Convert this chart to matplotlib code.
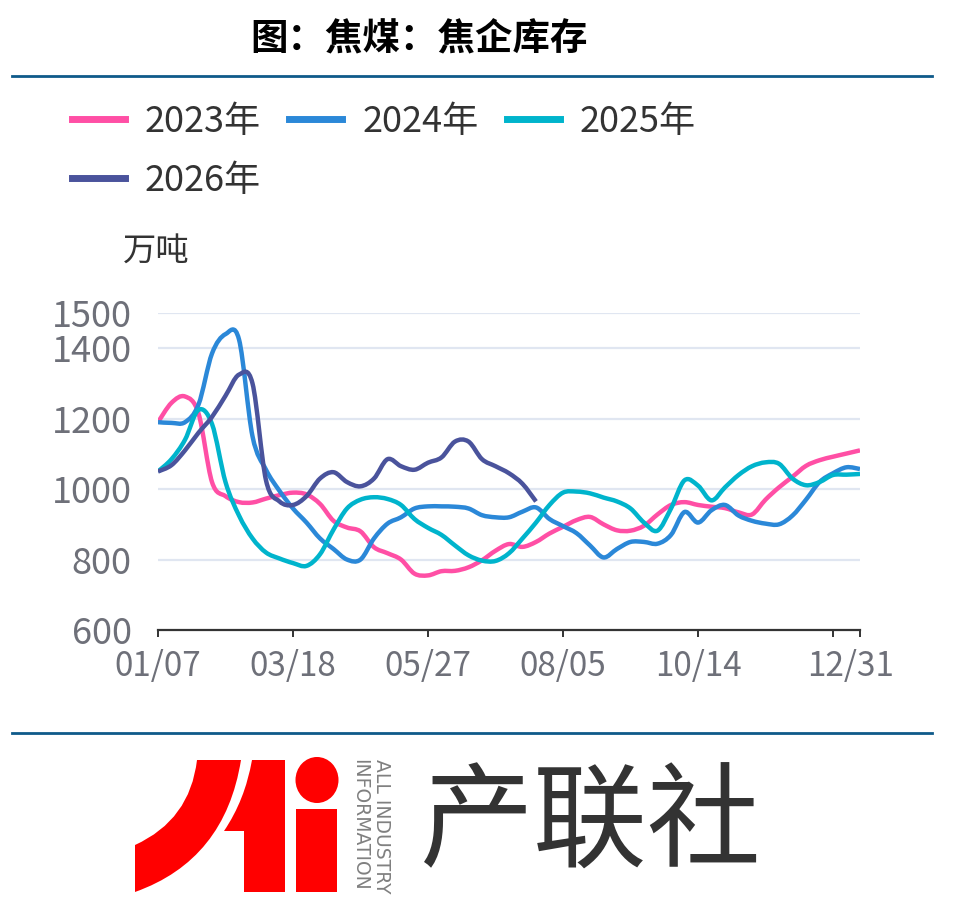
import numpy as np
import matplotlib.pyplot as plt
from matplotlib.patches import Ellipse, Rectangle, PathPatch
from matplotlib.path import Path
from matplotlib.lines import Line2D
from matplotlib import transforms

plt.rcParams['font.family'] = ['Noto Sans CJK SC', 'DejaVu Sans']

# 周度数据：横轴为周序号，01/07 起，每 10 周一个刻度
x_ticks = [0, 10, 20, 30, 40, 50, 52]
x_labels = ['01/07', '03/18', '05/27', '08/05', '10/14', '', '12/31']
y_ticks = [600, 800, 1000, 1200, 1400, 1500]

y2023 = [1190, 1245, 1263, 1215, 1020, 980, 963, 962, 973, 983,
         990, 985, 958, 910, 891, 880, 835, 818, 800, 760,
         755, 767, 768, 778, 798, 825, 844, 836, 850, 874,
         893, 912, 921, 900, 883, 882, 896, 928, 955, 963,
         955, 950, 946, 934, 928, 970, 1005, 1035, 1066, 1082,
         1092, 1101, 1110]
y2024 = [1190, 1188, 1190, 1240, 1385, 1440, 1425, 1150, 1055, 995,
         945, 905, 860, 830, 800, 800, 860, 902, 920, 945,
         951, 951, 950, 945, 926, 920, 920, 936, 948, 915,
         895, 875, 840, 806, 830, 850, 850, 845, 870, 935,
         905, 940, 955, 925, 910, 902, 900, 925, 970, 1020,
         1045, 1062, 1057]
y2025 = [1050, 1085, 1140, 1225, 1185, 1020, 925, 860, 820, 803,
         790, 782, 815, 885, 945, 970, 977, 972, 955, 915,
         890, 870, 840, 812, 797, 796, 818, 860, 905, 955,
         990, 993, 988, 976, 965, 945, 905, 882, 945, 1025,
         1010, 968, 1005, 1040, 1065, 1076, 1072, 1030, 1011, 1020,
         1040, 1041, 1043]
y2026 = [1050, 1068, 1110, 1160, 1205, 1265, 1325, 1300, 1025, 965,
         955, 980, 1030, 1048, 1020, 1008, 1030, 1085, 1065, 1055,
         1075, 1090, 1135, 1135, 1085, 1065, 1045, 1015, 965]

series = [('2023年', y2023, '#FF4FA5'),
          ('2024年', y2024, '#2B88D8'),
          ('2025年', y2025, '#00B4CC'),
          ('2026年', y2026, '#4A539C')]


def smooth_path(xs, ys):
    # 平滑折线（类似 echarts smooth），三次贝塞尔经过每个数据点
    pts = np.column_stack([xs, ys]).astype(float)
    n = len(pts)
    verts = [pts[0]]
    codes = [Path.MOVETO]
    for i in range(n - 1):
        p0 = pts[max(i - 1, 0)]
        p1 = pts[i]
        p2 = pts[i + 1]
        p3 = pts[min(i + 2, n - 1)]
        c1 = p1 + (p2 - p0) / 6
        c2 = p2 - (p3 - p1) / 6
        verts += [c1, c2, p2]
        codes += [Path.CURVE4] * 3
    return Path(verts, codes)


W, H = 964, 924
fig = plt.figure(figsize=(W / 100, H / 100), dpi=100)

# 背景层：分隔线、标题、logo（像素坐标）
bg = fig.add_axes([0, 0, 1, 1])
bg.set_xlim(0, W)
bg.set_ylim(H, 0)
bg.axis('off')

bg.plot([12, 932], [76, 76], color='#0E5A8A', lw=2)
bg.plot([12, 932], [733, 733], color='#0E5A8A', lw=2)
bg.text(419, 39, '图：焦煤：焦企库存', fontsize=27, fontweight='bold',
        ha='center', va='center', color='black')
bg.text(156, 252, '万吨', fontsize=24, ha='center', va='center', color='#333333')

red = '#FF0000'
left_piece = Path([(197, 760), (190, 820), (135, 845), (135, 892),
                   (225, 860), (241, 760), (197, 760)],
                  [Path.MOVETO, Path.CURVE3, Path.CURVE3, Path.LINETO,
                   Path.CURVE3, Path.CURVE3, Path.CLOSEPOLY])
bg.add_patch(PathPatch(left_piece, facecolor=red, edgecolor='none'))
mid_piece = Path([(252, 760), (245, 800), (224, 831), (244, 831), (244, 892),
                  (285, 892), (285, 760), (252, 760)],
                 [Path.MOVETO, Path.CURVE3, Path.CURVE3, Path.LINETO, Path.LINETO,
                  Path.LINETO, Path.LINETO, Path.CLOSEPOLY])
bg.add_patch(PathPatch(mid_piece, facecolor=red, edgecolor='none'))
bg.add_patch(Ellipse((317, 780), 43, 46, facecolor=red, edgecolor='none'))
bg.add_patch(Rectangle((296, 809), 41, 83, facecolor=red, edgecolor='none'))
bg.text(381, 759, 'ALL INDUSTRY', family='DejaVu Sans', fontsize=13.5, rotation=-90,
        ha='center', va='top', color='#808080')
bg.text(360, 759, 'INFORMATION', family='DejaVu Sans', fontsize=13.5, rotation=-90,
        ha='center', va='top', color='#808080')
bg.text(591, 826, '产联社', fontsize=82, ha='center', va='center', color='#333333')

# 主图
ax = fig.add_axes([158 / W, 1 - 630 / H, (860 - 158) / W, (630 - 313) / H])
handles = {}
for name, vals, col in series:
    path = smooth_path(np.arange(len(vals)), vals)
    ax.add_patch(PathPatch(path, facecolor='none', edgecolor=col, lw=3.2,
                           joinstyle='round', capstyle='butt'))
    handles[name] = Line2D([], [], color=col, lw=5)

ax.set_xlim(0, 52)
ax.set_ylim(600, 1500)
ax.set_xticks(x_ticks)
ax.set_xticklabels(x_labels)
ax.set_yticks(y_ticks)
for v in y_ticks[1:]:
    ax.axhline(v, color='#E0E6F1', lw=1.6, zorder=0)

for s in ['top', 'right', 'left']:
    ax.spines[s].set_visible(False)
ax.spines['bottom'].set_color('#333333')
ax.spines['bottom'].set_linewidth(1.6)
ax.tick_params(axis='x', length=5, width=1.4, color='#333333', pad=9,
               labelsize=24, labelcolor='#6E7079')
ax.tick_params(axis='y', length=0, pad=19, labelsize=26, labelcolor='#6E7079')
last = ax.get_xticklabels()[-1]
last.set_transform(last.get_transform() +
                   transforms.ScaledTranslation(-0.09, 0, fig.dpi_scale_trans))

order = ['2023年', '2026年', '2024年', '2025年']
leg = fig.legend([handles[k] for k in order], order, ncol=3, frameon=False,
                 loc='upper left', bbox_to_anchor=(72 / W, 1 - 104 / H),
                 borderpad=0, borderaxespad=0, fontsize=26, handlelength=1.47,
                 handletextpad=0.55, columnspacing=0.78, labelspacing=0.64)
for t in leg.get_texts():
    t.set_color('#333333')

fig.savefig('out.png', dpi=100)
